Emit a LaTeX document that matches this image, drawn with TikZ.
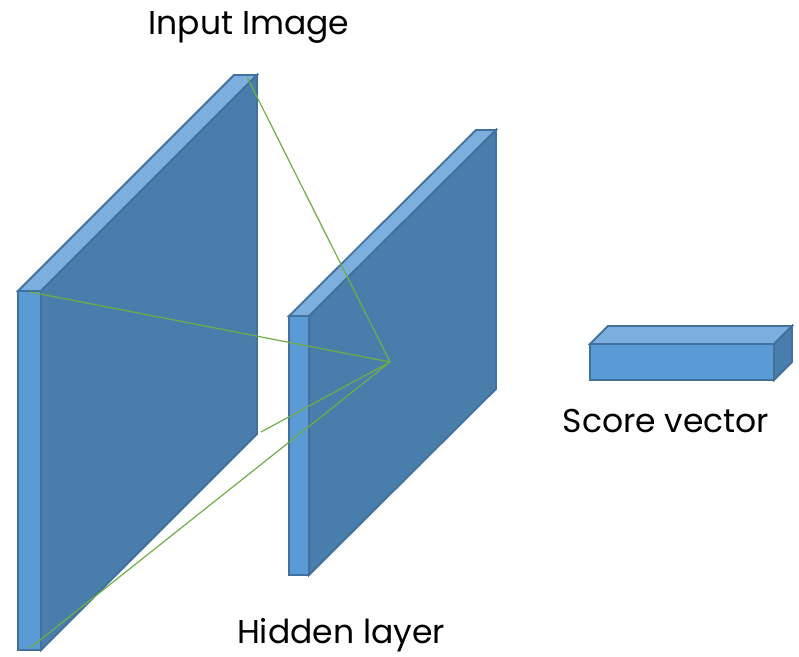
\documentclass[tikz,border=0pt]{standalone}
\usepackage{fontspec}
\setmainfont{Poppins}
\definecolor{frontc}{HTML}{5B9BD5}
\definecolor{topc}{HTML}{7DAFDE}
\definecolor{sidec}{HTML}{497DAC}
\definecolor{edgec}{HTML}{41719C}
\definecolor{linkc}{HTML}{70AD47}
\tikzset{
  face/.style={draw=edgec, line width=1.8pt, line join=miter},
  link/.style={draw=linkc, line width=1.2pt},
  lbl/.style={inner sep=0pt, anchor=base, font=\fontsize{33}{40}\selectfont}
}
\newcommand{\slab}[6]{% x0,y0,w,h,dx,dy
  \fill[frontc,face] (#1,#2) rectangle ++(#3,#4);
  \fill[topc,face] (#1,#2) -- ++(#3,0) -- ++(#5,#6) -- ++(-#3,0) -- cycle;
  \fill[sidec,face] (#1+#3,#2) -- ++(#5,#6) -- ++(0,#4) -- ++(-#5,-#6) -- cycle;
}
\begin{document}
\begin{tikzpicture}[x=1pt,y=-1pt]
\useasboundingbox (0,0) rectangle (799,656);
% left slab (input)
\slab{18}{291}{23}{359}{216}{-216}
% middle slab (hidden)
\slab{289}{316}{20}{259}{187}{-186}
% score vector
\slab{590}{344}{184}{36}{18}{-18}
% link coordinates
\coordinate (apex) at (390,362);
\coordinate (a1) at (247,77);
\coordinate (a2) at (30,292);
\coordinate (a3) at (30,648);
\coordinate (a4) at (261,432);
\draw[link] (a1) -- (apex);
\draw[link] (a2) -- (apex);
\draw[link] (a3) -- (apex);
\draw[link] (a4) -- (apex);
% labels
\node[lbl] (tin) at (249,34) {Input Image};
\node[lbl] (thid) at (341,643) {Hidden layer};
\node[lbl] (tsc) at (666,432) {Score vector};
\end{tikzpicture}
\end{document}
